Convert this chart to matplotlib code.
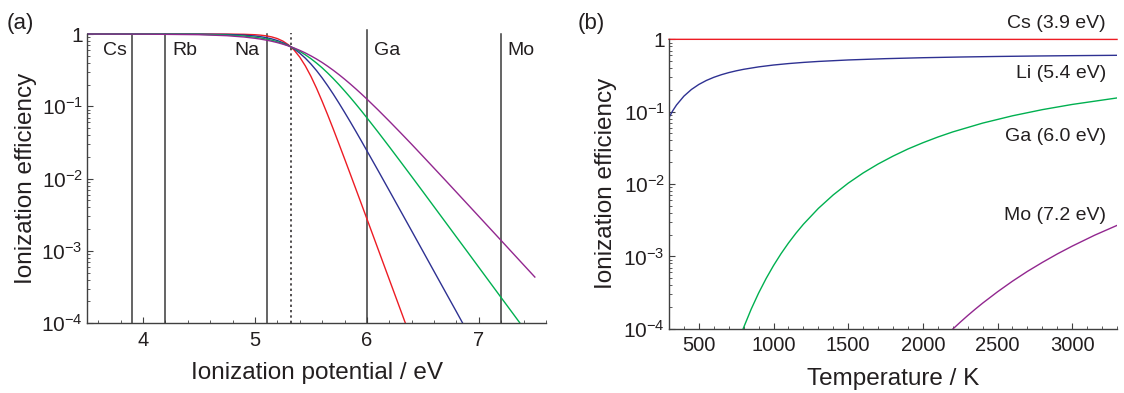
import numpy as np
import matplotlib
matplotlib.use("Agg")
import matplotlib.pyplot as plt
from matplotlib.ticker import FixedLocator, MultipleLocator, LogLocator, NullFormatter

plt.rcParams['font.family'] = ['Liberation Sans', 'DejaVu Sans']
plt.rcParams['mathtext.fontset'] = 'custom'
plt.rcParams['mathtext.rm'] = 'Liberation Sans'

# ---- panel (a): efficiency vs ionization potential, four temperatures
ip = [3.5, 4.0, 4.5, 4.75, 4.9, 5.0, 5.05, 5.1, 5.15, 5.2, 5.25, 5.3, 5.35, 5.4, 5.45,
      5.5, 5.55, 5.6, 5.65, 5.7, 5.75, 5.8, 5.85, 5.9, 5.95, 6.0, 6.1, 6.2, 6.3, 6.4,
      6.5, 6.6, 6.7, 6.8, 6.9, 7.0, 7.1, 7.2, 7.3, 7.4, 7.5]
eff_red = [1.0, 1.0, 0.9998, 0.998, 0.9915, 0.978, 0.9646, 0.944, 0.9119, 0.865, 0.7974,
           0.708, 0.5995, 0.480, 0.3626, 0.260, 0.178, 0.1176, 0.0760, 0.0483, 0.0303,
           0.0189, 0.01174, 7.27e-3, 4.50e-3, 2.78e-3, 1.057e-3, 4.02e-4, 1.53e-4, 5.8e-5,
           None, None, None, None, None, None, None, None, None, None, None]
eff_blue = [1.0, 0.9999, 0.9975, 0.9875, 0.9677, 0.940, 0.9194, 0.892, 0.8568, 0.813,
            0.7585, 0.695, 0.6224, 0.544, 0.4638, 0.385, 0.3122, 0.2475, 0.1923, 0.1472,
            0.1111, 0.0830, 0.0616, 0.0454, 0.0333, 0.0243, 0.01292, 6.82e-3, 3.59e-3,
            1.89e-3, 9.92e-4, 5.20e-4, 2.73e-4, 1.436e-4, 7.5e-5,
            None, None, None, None, None, None]
eff_green = [0.9999, 0.9992, 0.9906, 0.969, 0.9384, 0.904, 0.8807, 0.853, 0.8198, 0.781,
             0.7372, 0.688, 0.6337, 0.576, 0.5161, 0.456, 0.3968, 0.341, 0.2885, 0.2415,
             0.200, 0.164, 0.1336, 0.108, 0.0868, 0.0694, 0.0440, 0.0276, 0.01719, 0.01068,
             6.61e-3, 4.08e-3, 2.52e-3, 1.555e-3, 9.61e-4, 5.92e-4, 3.65e-4, 2.25e-4,
             1.39e-4, 8.57e-5, 5.3e-5]
eff_purple = [0.9996, 0.997, 0.9795, 0.948, 0.9103, 0.873, 0.8504, 0.824, 0.7942, 0.761,
              0.7239, 0.684, 0.6404, 0.595, 0.5474, 0.499, 0.4510, 0.404, 0.3581, 0.315,
              0.2748, 0.238, 0.2047, 0.175, 0.1488, 0.126, 0.0891, 0.0623, 0.0432, 0.0298,
              0.0204, 0.01394, 9.52e-3, 6.48e-3, 4.41e-3, 3.00e-3, 2.04e-3, 1.387e-3,
              9.42e-4, 6.40e-4, 4.35e-4]

elements_a = ['Cs', 'Rb', 'Na', 'Ga', 'Mo']
ip_lines = [3.9, 4.2, 5.11, 6.0, 7.2]
line_tops = [1.0, 1.0, 1.0, 1.13, 1.0]
label_x = [3.75, 4.375, 4.93, 6.18, 7.38]
work_fn = 5.32

# ---- panel (b): efficiency vs temperature for four elements
T_cs = [300, 2000, 3300]
eff_cs = [1.0, 0.999, 0.997]
T_li = [300, 325, 350, 400, 450, 500, 550, 600, 650, 700, 750, 800, 900, 1000, 1100, 1200,
        1300, 1500, 1750, 2000, 2250, 2500, 2750, 3000, 3300]
eff_li = [0.0831, 0.1030, 0.1235, 0.1641, 0.2026, 0.238, 0.270, 0.2985, 0.324, 0.3468,
          0.367, 0.3852, 0.4161, 0.4415, 0.4623, 0.4798, 0.4947, 0.5186, 0.5406, 0.557,
          0.5696, 0.5797, 0.5880, 0.5948, 0.6015]
T_ga = [780, 800, 850, 900, 950, 1000, 1050, 1100, 1150, 1200, 1300, 1400, 1500, 1600,
        1700, 1800, 1900, 2000, 2100, 2200, 2400, 2600, 2800, 3000, 3300]
eff_ga = [8.07e-5, 1.041e-4, 1.858e-4, 3.11e-4, 4.93e-4, 7.47e-4, 1.088e-3, 1.53e-3,
          2.09e-3, 2.78e-3, 4.60e-3, 7.08e-3, 0.01028, 0.01422, 0.0189, 0.0243, 0.0305,
          0.0372, 0.0446, 0.0525, 0.0695, 0.0877, 0.1067, 0.1259, 0.1548]
T_mo = [2150, 2200, 2250, 2300, 2350, 2400, 2500, 2600, 2700, 2800, 2900, 3000, 3150, 3300]
eff_mo = [7.84e-5, 9.87e-5, 1.230e-4, 1.519e-4, 1.858e-4, 2.255e-4, 3.24e-4, 4.54e-4,
          6.20e-4, 8.25e-4, 1.080e-3, 1.386e-3, 1.961e-3, 2.68e-3]

labels_b = ['Cs (3.9 eV)', 'Li (5.4 eV)', 'Ga (6.0 eV)', 'Mo (7.2 eV)']
label_y_b = [1.63, 0.342, 0.046, 3.7e-3]

RED = '#ed1c24'
BLUE = '#2e3192'
GREEN = '#00b050'
PURPLE = '#92278f'
TXT = '#231f20'
AX = '#404040'

ytick_vals = [1e-4, 1e-3, 1e-2, 1e-1, 1]
ytick_labels = [r'$\mathregular{10^{-4}}$', r'$\mathregular{10^{-3}}$',
                r'$\mathregular{10^{-2}}$', r'$\mathregular{10^{-1}}$', '1']


def style_axes(ax):
    ax.set_yscale('log')
    ax.set_ylim(1e-4, 1.02)
    for s in ['top', 'right']:
        ax.spines[s].set_visible(False)
    for s in ['left', 'bottom']:
        ax.spines[s].set_color(AX)
        ax.spines[s].set_linewidth(1.0)
    ax.spines['left'].set_bounds(1e-4, 1)
    ax.yaxis.set_major_locator(FixedLocator(ytick_vals))
    ax.set_yticklabels(ytick_labels)
    ax.yaxis.set_minor_locator(LogLocator(base=10, subs=np.arange(2, 10)))
    ax.yaxis.set_minor_formatter(NullFormatter())
    ax.tick_params(which='both', direction='in', colors=AX, labelcolor=TXT)
    ax.tick_params(which='major', length=4, width=0.8)
    ax.tick_params(which='minor', length=2.2, width=0.6)
    ax.tick_params(axis='y', labelsize=15, pad=3)
    ax.tick_params(axis='x', labelsize=14.5, pad=5.5)
    ax.set_ylabel('Ionization efficiency', fontsize=17.5, color=TXT)


fig = plt.figure(figsize=(11.24, 3.93), dpi=100)
ax1 = fig.add_axes([0.0774, 0.1776, 0.4084, 0.7374])
ax2 = fig.add_axes([0.5952, 0.1636, 0.3986, 0.7379])

# panel (a)
style_axes(ax1)
ax1.set_xlim(3.5, 7.6)
ax1.xaxis.set_major_locator(FixedLocator([4, 5, 6, 7]))
ax1.xaxis.set_minor_locator(MultipleLocator(0.2))
for x, top in zip(ip_lines, line_tops):
    ax1.plot([x, x], [1e-4, top], color='#3a3a3a', lw=1.1, clip_on=False)
ax1.plot([work_fn, work_fn], [1e-4, 1.03], color='#231f20', lw=1.1,
         linestyle=(0, (1.5, 2)), clip_on=False)
for y, c in zip([eff_red, eff_blue, eff_green, eff_purple], [RED, BLUE, GREEN, PURPLE]):
    xs = [a for a, b in zip(ip, y) if b is not None]
    ys = [b for b in y if b is not None]
    ax1.plot(xs, ys, color=c, lw=1.0)
for name, x in zip(elements_a, label_x):
    ax1.text(x, 0.6, name, ha='center', va='center', fontsize=14, color=TXT)
ax1.set_xlabel('Ionization potential / eV', fontsize=17.5, color=TXT, labelpad=9)
ax1.yaxis.set_label_coords(-0.11, 0.5)

# panel (b)
style_axes(ax2)
ax2.set_xlim(300, 3300)
ax2.xaxis.set_major_locator(FixedLocator([500, 1000, 1500, 2000, 2500, 3000]))
ax2.xaxis.set_minor_locator(MultipleLocator(100))
ax2.plot(T_cs, eff_cs, color=RED, lw=1.0, clip_on=False)
ax2.plot(T_li, eff_li, color=BLUE, lw=1.0)
ax2.plot(T_ga, eff_ga, color=GREEN, lw=1.0)
ax2.plot(T_mo, eff_mo, color=PURPLE, lw=1.0)
for lab, y in zip(labels_b, label_y_b):
    ax2.text(0.975, y, lab, transform=ax2.get_yaxis_transform(), ha='right', va='center',
             fontsize=14, color=TXT, clip_on=False)
ax2.set_xlabel('Temperature / K', fontsize=17.5, color=TXT, labelpad=9)
ax2.yaxis.set_label_coords(-0.116, 0.5)

fig.text(0.006, 0.94, '(a)', fontsize=16, color=TXT, va='center', ha='left')
fig.text(0.514, 0.94, '(b)', fontsize=16, color=TXT, va='center', ha='left')

fig.savefig('out.png', dpi=100)
